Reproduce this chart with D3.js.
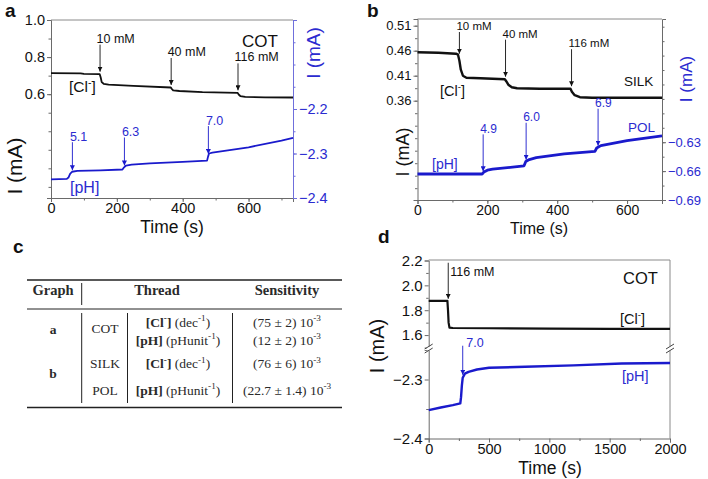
<!DOCTYPE html>
<html>
<head>
<meta charset="utf-8">
<script src="https://cdn.jsdelivr.net/npm/d3@7"></script>
<style>
  body { margin: 0; background: #fff; }
  svg { display: block; font-family: "Liberation Sans", Arial, sans-serif; }
</style>
</head>
<body>
<svg id="fig" width="708" height="479"></svg>
<script>
// -------- Data: panel a (COT) --------
const aClTime = [0, 90, 100, 148, 151, 154, 160, 175, 250, 364, 367, 371, 390, 460, 567, 570, 575, 590, 650, 735];
const aClVal  = [0.713, 0.712, 0.709, 0.708, 0.690, 0.665, 0.656, 0.651, 0.645, 0.636, 0.628, 0.620, 0.617, 0.611, 0.607, 0.598, 0.590, 0.585, 0.583, 0.582];
const aPhTime = [0, 48, 53, 58, 64, 80, 150, 217, 222, 228, 245, 300, 400, 474, 477, 480, 490, 600, 700, 735];
const aPhVal  = [-2.358, -2.357, -2.354, -2.346, -2.341, -2.339, -2.338, -2.336, -2.331, -2.327, -2.325, -2.322, -2.319, -2.316, -2.307, -2.300, -2.298, -2.286, -2.271, -2.265];
const aClMarks = [149, 365, 568];
const aClLabels = ['10 mM', '40 mM', '116 mM'];
const aPhMarks = [65, 223, 478];
const aPhLabels = ['5.1', '6.3', '7.0'];
const aXTicks = [0, 200, 400, 600];
const aLeftTicks = [0.6, 0.8, 1.0];
const aRightTicks = [-2.4, -2.3, -2.2];

// -------- Data: panel b (SILK / POL) --------
const bClTime = [0, 60, 110, 116, 120, 124, 130, 140, 180, 250, 254, 260, 270, 285, 350, 438, 442, 450, 465, 500, 700];
const bClVal  = [0.457, 0.456, 0.454, 0.452, 0.440, 0.422, 0.410, 0.406, 0.405, 0.403, 0.399, 0.392, 0.387, 0.385, 0.384, 0.384, 0.378, 0.371, 0.367, 0.366, 0.366];
const bPhTime = [0, 185, 190, 200, 215, 305, 310, 320, 340, 420, 508, 513, 525, 600, 700];
const bPhVal  = [-0.663, -0.663, -0.661, -0.659, -0.658, -0.6545, -0.650, -0.648, -0.646, -0.642, -0.6395, -0.636, -0.6335, -0.6283, -0.6235];
const bClMarks = [120, 252, 441];
const bClLabels = ['10 mM', '40 mM', '116 mM'];
const bPhMarks = [188, 311, 517];
const bPhLabels = ['4.9', '6.0', '6.9'];
const bXTicks = [0, 200, 400, 600];
const bLeftTicks = [0.36, 0.41, 0.46, 0.51];
const bRightTicks = [-0.69, -0.66, -0.63];

// -------- Data: panel d (COT, long run) --------
const dClTime = [0, 150, 155, 160, 165, 172, 200, 500, 1000, 1500, 2000];
const dClVal  = [1.875, 1.876, 1.875, 1.80, 1.70, 1.660, 1.657, 1.655, 1.652, 1.650, 1.650];
const dPhTime = [0, 100, 200, 262, 268, 275, 282, 300, 330, 400, 500, 800, 1200, 1600, 2000];
const dPhVal  = [-2.352, -2.3475, -2.3435, -2.3405, -2.330, -2.310, -2.297, -2.290, -2.287, -2.283, -2.280, -2.2785, -2.276, -2.273, -2.272];
const dClMarks = [162];
const dClLabels = ['116 mM'];
const dPhMarks = [282];
const dPhLabels = ['7.0'];
const dXTicks = [0, 500, 1000, 1500, 2000];
const dUpperTicks = [1.6, 1.8, 2.0, 2.2];
const dLowerTicks = [-2.4, -2.3];

// -------- Data: table c --------
const tableGraph  = ['a', 'b'];
const tableThread = ['COT', 'SILK', 'POL'];
const tableIon    = ['Cl', 'pH', 'Cl', 'pH'];
const tableUnit   = ['dec', 'pHunit', 'dec', 'pHunit'];
const tableSens   = ['(75 ± 2) 10', '(12 ± 2) 10', '(76 ± 6) 10', '(22.7 ± 1.4) 10'];

// -------- Helpers --------
const BLACK = '#111';
const BLUE = '#1a1acc';
const BLUE_TXT = '#2b2bd0';
const FRAME = '#6a6a6a';

const svg = d3.select('#fig');

const defs = svg.append('defs');
[['arrBlack', BLACK], ['arrBlue', BLUE]].forEach(([id, c]) => {
  defs.append('marker')
    .attr('id', id)
    .attr('viewBox', '0 0 6 6')
    .attr('refX', 6).attr('refY', 3)
    .attr('markerWidth', 5).attr('markerHeight', 5)
    .attr('markerUnits', 'userSpaceOnUse')
    .attr('orient', 'auto')
    .append('path').attr('d', 'M0,0 L6,3 L0,6 Z').attr('fill', c);
});

const zip = (t, v) => t.map((d, i) => [d, v[i]]);
const valueAt = (ts, vs, t) => d3.scaleLinear().domain(ts).range(vs).clamp(true)(t);

function drawAxis(gen, tx, ty, o) {
  const g = svg.append('g').attr('transform', `translate(${tx},${ty})`).call(gen);
  g.attr('font-family', null).attr('font-size', null);
  if (o.noDomain) g.select('.domain').remove();
  else g.select('.domain').attr('stroke', o.line).attr('stroke-width', 1);
  g.selectAll('.tick line').attr('stroke', o.line);
  g.selectAll('.tick text').attr('fill', o.text || '#111').attr('font-size', o.size);
  return g;
}

function series(x, y, t, v, color, width) {
  svg.append('path')
    .datum(zip(t, v))
    .attr('fill', 'none')
    .attr('stroke', color)
    .attr('stroke-width', width)
    .attr('stroke-linejoin', 'round')
    .attr('d', d3.line().x(d => x(d[0])).y(d => y(d[1])));
}

function richText(sel, parts, fs) {
  let up = false;
  parts.forEach(p => {
    const ts = sel.append('tspan').text(p.t);
    if (p.b) ts.attr('font-weight', 'bold');
    if (p.sup) {
      ts.attr('font-size', fs * 0.68);
      if (!up) { ts.attr('dy', -fs * 0.38); up = true; }
    } else if (up) { ts.attr('dy', fs * 0.38); up = false; }
  });
}

function label(x, y, parts, o) {
  const t = svg.append('text')
    .attr('x', x).attr('y', y)
    .attr('font-size', o.size)
    .attr('fill', o.color || '#111')
    .attr('text-anchor', o.anchor || 'start');
  if (o.weight) t.attr('font-weight', o.weight);
  if (o.rotate) t.attr('transform', `rotate(-90,${x},${y})`);
  if (o.family) t.attr('font-family', o.family);
  richText(t, typeof parts === 'string' ? [{ t: parts }] : parts, o.size);
  return t;
}

// arrows pointing down onto a curve
function arrows(marks, texts, x, y, ts, vs, o) {
  marks.forEach((t, i) => {
    const px = x(t);
    const tip = y(valueAt(ts, vs, t - o.back)) - o.gap;
    const start = Math.max(tip - o.len, o.minStart || -1e9);
    svg.append('line')
      .attr('x1', px).attr('x2', px)
      .attr('y1', start).attr('y2', tip)
      .attr('stroke', o.color).attr('stroke-width', 0.9)
      .attr('marker-end', `url(#${o.marker})`);
    label(px + o.dx, start + o.dy, texts[i], { size: o.size, color: o.text });
  });
}

function frameLine(x1, y1, x2, y2, c) {
  svg.append('line').attr('x1', x1).attr('y1', y1).attr('x2', x2).attr('y2', y2)
    .attr('stroke', c).attr('stroke-width', 1);
}

const clParts = [{ t: '[Cl' }, { t: '-', sup: true }, { t: ']' }];

// ================= Panel a =================
{
  const P = { x0: 51, x1: 293, y0: 20, y1: 198 };
  const x = d3.scaleLinear().domain([0, 735]).range([P.x0, P.x1]);
  const yL = d3.scaleLinear().domain([0.04, 1.0]).range([P.y1, P.y0]);
  const yR = d3.scaleLinear().domain([-2.4, -2.0]).range([P.y1, P.y0]);

  frameLine(P.x0, P.y0, P.x1, P.y0, '#8a8a8a');
  drawAxis(d3.axisBottom(x).tickValues(d3.range(100, 735, 100)).tickSize(2.5).tickFormat(''), 0, P.y1, { line: FRAME, noDomain: true });
  drawAxis(d3.axisBottom(x).tickValues(aXTicks).tickSize(4).tickPadding(1), 0, P.y1, { line: FRAME, size: 14.5 });
  drawAxis(d3.axisLeft(yL).tickValues(d3.range(0.1, 0.95, 0.1)).tickSize(2.5).tickFormat(''), P.x0, 0, { line: FRAME, noDomain: true });
  drawAxis(d3.axisLeft(yL).tickValues(aLeftTicks).tickSize(4).tickPadding(2).tickFormat(d3.format('.1f')), P.x0, 0, { line: FRAME, size: 14.5 });
  drawAxis(d3.axisRight(yR).tickValues(d3.range(-2.35, -2.0, 0.05)).tickSize(2.5).tickFormat(''), P.x1, 0, { line: '#6f6fdc', noDomain: true });
  drawAxis(d3.axisRight(yR).tickValues(aRightTicks).tickSize(4).tickPadding(2).tickFormat(d3.format('.1f')), P.x1, 0, { line: '#6f6fdc', text: BLUE_TXT, size: 14.5 });

  series(x, yL, aClTime, aClVal, BLACK, 1.8);
  series(x, yR, aPhTime, aPhVal, BLUE, 1.8);

  arrows(aClMarks, aClLabels, x, yL, aClTime, aClVal,
    { back: 2, gap: 2.5, len: 27, dx: -3.5, dy: -2, size: 12.5, color: BLACK, text: '#111', marker: 'arrBlack' });
  arrows(aPhMarks, aPhLabels, x, yR, aPhTime, aPhVal,
    { back: 0, gap: 1.5, len: 28, dx: -2.5, dy: -1.5, size: 12.5, color: BLUE, text: BLUE_TXT, marker: 'arrBlue' });

  label(242, 46.5, 'COT', { size: 17 });
  label(69, 92, clParts, { size: 15.5 });
  label(70, 193, '[pH]', { size: 16, color: BLUE_TXT });

  label(172, 232.5, 'Time (s)', { size: 17.5, anchor: 'middle' });
  label(22, 166, 'I (mA)', { size: 21, anchor: 'middle', rotate: true });
  label(320, 53, 'I (mA)', { size: 19, anchor: 'middle', rotate: true, color: BLUE_TXT });
  label(5, 17, 'a', { size: 19, weight: 'bold' });
}

// ================= Panel b =================
{
  const P = { x0: 417.5, x1: 662, y0: 19, y1: 200 };
  const x = d3.scaleLinear().domain([0, 700]).range([P.x0, P.x1]);
  const yL = d3.scaleLinear().domain([0.1614, 0.5234]).range([P.y1, P.y0]);
  const yR = d3.scaleLinear().domain([-0.69, -0.502]).range([P.y1, P.y0]);

  frameLine(P.x0, P.y0, P.x1, P.y0, '#8a8a8a');
  drawAxis(d3.axisBottom(x).tickValues(d3.range(100, 700, 100)).tickSize(2.5).tickFormat(''), 0, P.y1, { line: FRAME, noDomain: true });
  drawAxis(d3.axisBottom(x).tickValues(bXTicks).tickSize(4).tickPadding(1), 0, P.y1, { line: FRAME, size: 14 });
  drawAxis(d3.axisLeft(yL).tickValues(d3.range(0.185, 0.52, 0.025)).tickSize(2.5).tickFormat(''), P.x0, 0, { line: FRAME, noDomain: true });
  drawAxis(d3.axisLeft(yL).tickValues(bLeftTicks).tickSize(4).tickPadding(2).tickFormat(d3.format('.2f')), P.x0, 0, { line: FRAME, size: 13 });
  drawAxis(d3.axisRight(yR).tickValues(d3.range(-0.675, -0.505, 0.015)).tickSize(2.5).tickFormat(''), P.x1, 0, { line: FRAME, noDomain: true });
  drawAxis(d3.axisRight(yR).tickValues(bRightTicks).tickSize(4).tickPadding(2).tickFormat(d3.format('.2f')), P.x1, 0, { line: FRAME, text: BLUE_TXT, size: 13 });

  series(x, yL, bClTime, bClVal, BLACK, 2.4);
  series(x, yR, bPhTime, bPhVal, BLUE, 2.8);

  arrows(bClMarks, bClLabels, x, yL, bClTime, bClVal,
    { back: 3, gap: 2.5, len: 37, minStart: P.y0 + 13, dx: -3, dy: -2, size: 11.5, color: BLACK, text: '#111', marker: 'arrBlack' });
  arrows(bPhMarks, bPhLabels, x, yR, bPhTime, bPhVal,
    { back: 0, gap: 1.5, len: 37, dx: -3, dy: -1.5, size: 12, color: BLUE, text: BLUE_TXT, marker: 'arrBlue' });

  label(624, 86, 'SILK', { size: 13.5 });
  label(628, 132, 'POL', { size: 13.5, color: BLUE_TXT });
  label(440, 95.5, clParts, { size: 14.5 });
  label(432, 168.5, '[pH]', { size: 14, color: BLUE_TXT });

  label(539, 234, 'Time (s)', { size: 16, anchor: 'middle' });
  label(409, 152, 'I (mA)', { size: 18, anchor: 'middle', rotate: true });
  label(692, 79, 'I (mA)', { size: 17, anchor: 'middle', rotate: true, color: BLUE_TXT });
  label(367, 17, 'b', { size: 19, weight: 'bold' });
}

// ================= Panel d =================
{
  const P = { x0: 428.7, x1: 670, y0: 260, y1: 438.5 };
  const brk = 348.5;
  const x = d3.scaleLinear().domain([0, 2000]).range([P.x0, P.x1]);
  const yU = d3.scaleLinear().domain([1.5, 2.2]).range([brk - 1, P.y0 + 0.5]);
  const yD = d3.scaleLinear().domain([-2.4, -2.25]).range([P.y1, brk + 1.5]);

  frameLine(P.x0, P.y0, P.x1, P.y0, '#8a8a8a');
  frameLine(P.x1, P.y0, P.x1, P.y1, '#8a8a8a');
  drawAxis(d3.axisBottom(x).tickValues(d3.range(250, 2000, 500)).tickSize(2.5).tickFormat(''), 0, P.y1, { line: FRAME, noDomain: true });
  drawAxis(d3.axisBottom(x).tickValues(dXTicks).tickSize(4).tickPadding(1).tickFormat(d3.format('d')), 0, P.y1, { line: FRAME, size: 14.5 });
  drawAxis(d3.axisLeft(yU).tickValues([1.7, 1.9, 2.1]).tickSize(2.5).tickFormat(''), P.x0, 0, { line: FRAME, noDomain: true });
  drawAxis(d3.axisLeft(yU).tickValues(dUpperTicks).tickSize(4).tickPadding(2).tickFormat(d3.format('.1f')), P.x0, 0, { line: FRAME, size: 15 });
  drawAxis(d3.axisLeft(yD).tickValues([-2.35]).tickSize(2.5).tickFormat(''), P.x0, 0, { line: FRAME, noDomain: true });
  drawAxis(d3.axisLeft(yD).tickValues(dLowerTicks).tickSize(4).tickPadding(2).tickFormat(d3.format('.1f')), P.x0, 0, { line: FRAME, size: 15 });

  // axis break marks
  [P.x0, P.x1].forEach(bx => {
    svg.append('rect').attr('x', bx - 2).attr('y', brk - 2).attr('width', 4).attr('height', 4).attr('fill', '#fff');
    [-2, 2].forEach(off => {
      svg.append('line')
        .attr('x1', bx - 4).attr('y1', brk + off + 2.5)
        .attr('x2', bx + 4).attr('y2', brk + off - 2.5)
        .attr('stroke', '#444').attr('stroke-width', 1);
    });
  });

  series(x, yU, dClTime, dClVal, BLACK, 2.2);
  series(x, yD, dPhTime, dPhVal, BLUE, 2.4);

  arrows(dClMarks, dClLabels, x, yU, dClTime, dClVal,
    { back: 6, gap: 4, len: 36, minStart: P.y0 + 2, dx: 2, dy: 13.5, size: 12.5, color: BLACK, text: '#111', marker: 'arrBlack' });
  arrows(dPhMarks, dPhLabels, x, yD, dPhTime, dPhVal,
    { back: 0, gap: 3, len: 29, dx: 3.5, dy: 1.5, size: 12.5, color: BLUE, text: BLUE_TXT, marker: 'arrBlue' });

  label(623, 284, 'COT', { size: 16.5 });
  label(620, 323.5, clParts, { size: 14.5 });
  label(622, 381, '[pH]', { size: 14.5, color: BLUE_TXT });

  label(550, 474, 'Time (s)', { size: 17.5, anchor: 'middle' });
  label(384, 346, 'I (mA)', { size: 20, anchor: 'middle', rotate: true });
  label(378, 243, 'd', { size: 19, weight: 'bold' });
}

// ================= Table c =================
{
  const serif = '"Liberation Serif", "DejaVu Serif", serif';
  const TXT = '#2a2a2a';
  const L = 27, R = 342;
  const colGraph = 53, colThread = 105, colIon = 178, colSens = 287;
  const rowY = [326.5, 344.5, 368, 394.5];

  label(13, 253, 'c', { size: 19, weight: 'bold' });

  const rule = (y, w) => svg.append('line').attr('x1', L).attr('x2', R).attr('y1', y).attr('y2', y)
    .attr('stroke', '#222').attr('stroke-width', w);
  rule(280, 1.5);
  rule(309, 1);
  rule(407.5, 1.5);

  const vbar = (xx, y1, y2) => svg.append('line').attr('x1', xx).attr('x2', xx).attr('y1', y1).attr('y2', y2)
    .attr('stroke', '#222').attr('stroke-width', 1);
  vbar(81.7, 283, 305);
  vbar(81.7, 313, 403);
  vbar(127.5, 313, 403);
  vbar(232.5, 313, 403);

  const hdr = { size: 14.5, weight: 'bold', anchor: 'middle', family: serif, color: TXT };
  label(colGraph, 295, 'Graph', hdr);
  label(colThread + 52, 295, 'Thread', hdr);
  label(colSens, 295, 'Sensitivity', hdr);

  const body = { size: 13.5, anchor: 'middle', family: serif, color: TXT };
  label(colGraph, 333.5, tableGraph[0], { ...body, weight: 'bold' });
  label(colGraph, 378, tableGraph[1], { ...body, weight: 'bold' });
  label(colThread, 333, tableThread[0], body);
  label(colThread, rowY[2], tableThread[1], body);
  label(colThread, rowY[3], tableThread[2], body);

  tableIon.forEach((ion, i) => {
    const ionParts = ion === 'Cl'
      ? [{ t: '[Cl', b: true }, { t: '-', b: true, sup: true }, { t: ']', b: true }]
      : [{ t: '[pH]', b: true }];
    label(colIon, rowY[i], [...ionParts, { t: ' (' + tableUnit[i] }, { t: '-1', sup: true }, { t: ')' }], body);
    label(colSens, rowY[i], [{ t: tableSens[i] }, { t: '-3', sup: true }], body);
  });
}
</script>
</body>
</html>
